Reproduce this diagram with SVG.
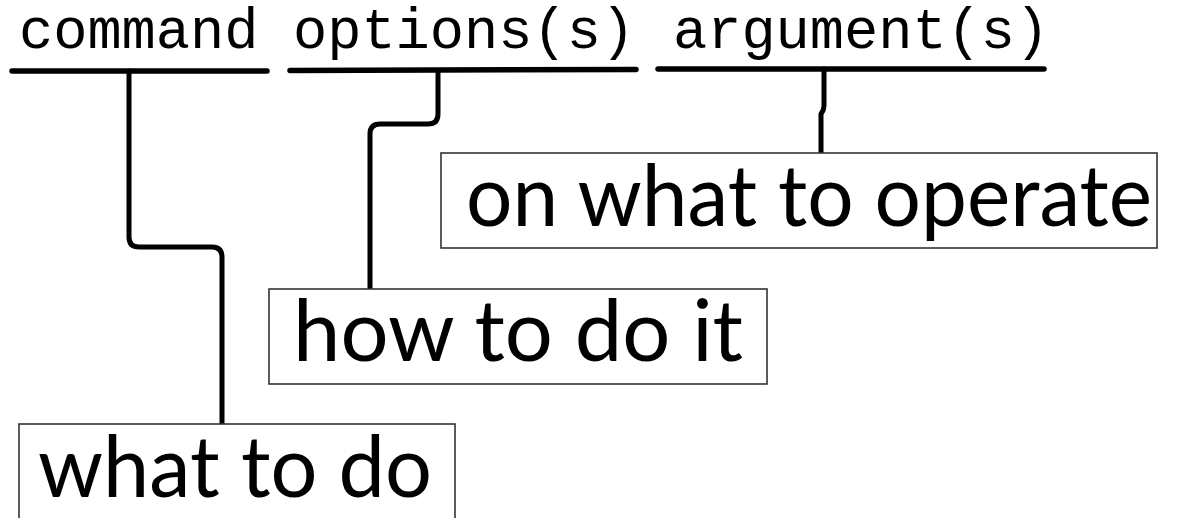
<svg xmlns="http://www.w3.org/2000/svg" width="1186" height="518" viewBox="0 0 1186 518">
<style>
.code{font-family:"Liberation Mono","Courier New",monospace;font-size:57px;fill:#000}
.lbl{font-family:Lato,"Open Sans","Noto Sans",sans-serif;font-size:85px;font-weight:400;fill:#000}
.box{fill:#fff;stroke:#333;stroke-width:1.6}
.ul{stroke:#000;stroke-width:5.5;stroke-linecap:round;fill:none}
.conn{stroke:#000;stroke-width:5;fill:none;stroke-linejoin:round;stroke-linecap:round}
</style>
<rect width="1186" height="518" fill="#fff"/>
<g id="command">
<text class="code" x="19" y="48">command</text>
<line class="ul" x1="12" y1="71" x2="267" y2="71"/>
</g>
<g id="options">
<text class="code" x="293" y="48">options(s)</text>
<line class="ul" x1="290" y1="70.5" x2="636" y2="69.5"/>
</g>
<g id="arguments">
<text class="code" x="673" y="48">argument(s)</text>
<line class="ul" x1="658" y1="69" x2="1044" y2="69"/>
</g>
<g id="connectors">
<path class="conn" d="M129,71 V237 Q129,247 139,247 H212 Q222,247 222,257 V424"/>
<path class="conn" d="M438,71 V114 Q438,124 428,124 H380 Q370,124 370,134 V289"/>
<path class="conn" d="M824,69 V106 Q824,110 821,114 V153"/>
</g>
<g id="what-to-operate">
<rect class="box" x="441" y="153" width="716" height="95"/>
<text class="lbl" x="466" y="226" textLength="686" lengthAdjust="spacingAndGlyphs">on what to operate</text>
</g>
<g id="how-to-do-it">
<rect class="box" x="269" y="289" width="498" height="95"/>
<text class="lbl" x="293" y="361" textLength="450" lengthAdjust="spacingAndGlyphs">how to do it</text>
</g>
<g id="what-to-do">
<rect class="box" x="19" y="424" width="436" height="110"/>
<text class="lbl" x="38" y="497" textLength="394" lengthAdjust="spacingAndGlyphs">what to do</text>
</g>
</svg>
